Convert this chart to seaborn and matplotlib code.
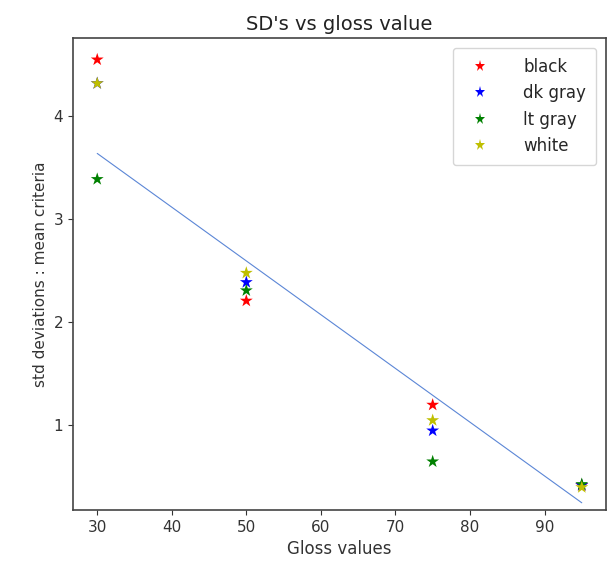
import matplotlib
matplotlib.use("Agg")
import matplotlib.pyplot as plt
import seaborn as sns
import pandas as pd

gloss = [30, 50, 75, 95]
black = [4.55, 2.21, 1.20, 0.42]
dk_gray = [4.32, 2.39, 0.95, 0.42]
lt_gray = [3.39, 2.31, 0.65, 0.43]
white = [4.32, 2.48, 1.05, 0.40]
series_names = ["black", "dk gray", "lt gray", "white"]
series_colors = ["red", "blue", "green", "#bfbf00"]
fit_x = [30, 95]
fit_y = [3.64, 0.25]

rows = []
for name, vals in zip(series_names, [black, dk_gray, lt_gray, white]):
    for g, v in zip(gloss, vals):
        rows.append({"gloss": g, "sd": v, "series": name})
df = pd.DataFrame(rows)

sns.set_style("ticks")
fig = plt.figure(figsize=(6.11, 5.66), dpi=100)
ax = fig.add_axes([73/611, 1 - 510/566, (606-73)/611, (510-38)/566])

sns.scatterplot(data=df, x="gloss", y="sd", hue="series", hue_order=series_names,
                palette=series_colors, marker="*", s=95, linewidth=0, ax=ax)
sns.lineplot(x=fit_x, y=fit_y, color="#5b86d6", linewidth=0.8, ax=ax, legend=False)

ax.set_xlim(26.75, 98.25)
ax.set_ylim(0.18, 4.76)
ax.set_xticks([30, 40, 50, 60, 70, 80, 90])
ax.set_yticks([1, 2, 3, 4])
ax.tick_params(labelsize=11, colors="#333333")
for sp in ax.spines.values():
    sp.set_color("#444444")
    sp.set_visible(True)
    sp.set_linewidth(1.2)
ax.set_title("SD's vs gloss value", fontsize=14, color="#222222")
ax.set_xlabel("Gloss values", fontsize=12, color="#333333")
ax.set_ylabel("std deviations : mean criteria", fontsize=11, color="#333333")
leg = ax.legend(loc="upper right", fontsize=12, frameon=True, borderpad=0.6,
                handletextpad=1.6, labelspacing=0.5, markerscale=0.85,
                borderaxespad=0.6)
leg.get_frame().set_edgecolor("#cccccc")

fig.savefig("out.png", dpi=100)
